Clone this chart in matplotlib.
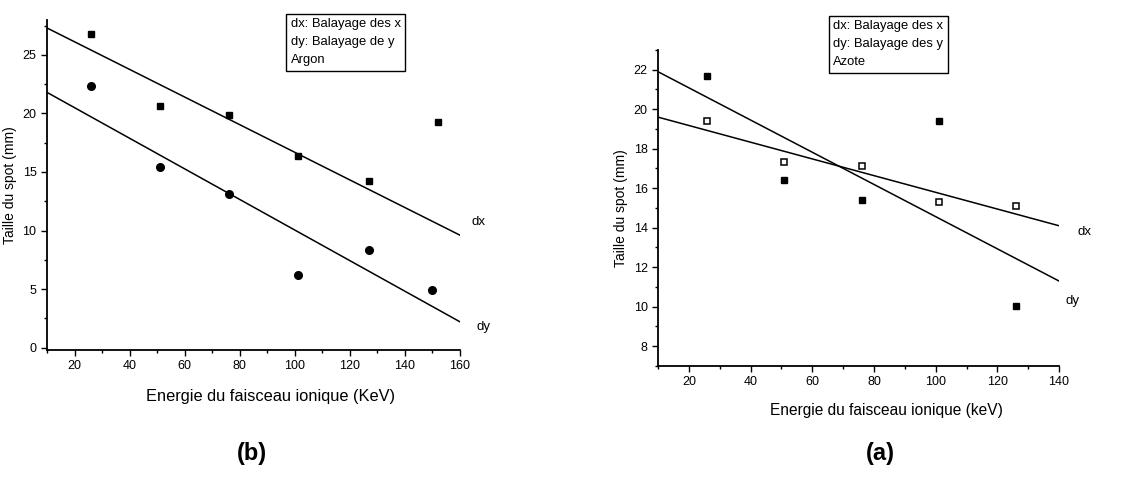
import matplotlib.pyplot as plt
from matplotlib.ticker import MultipleLocator

plt.rcParams['font.family'] = ['Liberation Sans', 'DejaVu Sans']

# Argon (panel b)
ar_x_dx = [26, 51, 76, 101, 127, 152]
ar_dx = [26.8, 20.6, 19.9, 16.4, 14.2, 19.3]
ar_x_dy = [26, 51, 76, 101, 127, 150]
ar_dy = [22.3, 15.4, 13.1, 6.2, 8.3, 4.9]
ar_fit_x = [10, 160]
ar_fit_dx = [27.3, 9.6]
ar_fit_dy = [21.8, 2.2]

# Azote (panel a)
az_x = [26, 51, 76, 101, 126]
az_dx = [19.4, 17.35, 17.15, 15.3, 15.1]
az_dy = [21.7, 16.4, 15.4, 19.4, 10.05]
az_fit_x = [10, 140]
az_fit_dx = [19.6, 14.1]
az_fit_dy = [21.9, 11.3]

fig = plt.figure(figsize=(11.4, 4.82), dpi=100)
ax1 = fig.add_axes([0.0412, 0.274, 0.3623, 0.685])
ax2 = fig.add_axes([0.5772, 0.2407, 0.3518, 0.6556])


def style(ax, xmaj, ymaj, ymin):
    for s in ['top', 'right']:
        ax.spines[s].set_visible(False)
    for s in ['left', 'bottom']:
        ax.spines[s].set_linewidth(1.3)
    ax.xaxis.set_major_locator(MultipleLocator(xmaj))
    ax.xaxis.set_minor_locator(MultipleLocator(xmaj / 2))
    ax.yaxis.set_major_locator(MultipleLocator(ymaj))
    ax.yaxis.set_minor_locator(MultipleLocator(ymin))
    ax.tick_params(which='major', direction='out', length=4, width=1, labelsize=9)
    ax.tick_params(which='minor', direction='out', length=2, width=1)


# panel b
ax1.plot(ar_fit_x, ar_fit_dx, color='black', lw=1.1)
ax1.plot(ar_fit_x, ar_fit_dy, color='black', lw=1.1)
ax1.plot(ar_x_dx, ar_dx, 's', color='black', ms=5)
ax1.plot(ar_x_dy, ar_dy, 'o', color='black', ms=5.5)
ax1.set_xlim(10, 160)
ax1.set_ylim(-0.2, 28)
style(ax1, 20, 5, 2.5)
ax1.set_xlabel('Energie du faisceau ionique (KeV)', fontsize=11.8)
ax1.xaxis.set_label_coords(0.542, -0.119, transform=ax1.transAxes)
ax1.set_ylabel('Taille du spot (mm)', fontsize=10, labelpad=4)
ax1.text(164, 10.7, 'dx', fontsize=9.5, va='center', ha='left')
ax1.text(166, 1.8, 'dy', fontsize=9.5, va='center', ha='left')

# panel a
ax2.plot(az_fit_x, az_fit_dx, color='black', lw=1.1)
ax2.plot(az_fit_x, az_fit_dy, color='black', lw=1.1)
ax2.plot(az_x, az_dy, 's', color='black', ms=5)
ax2.plot(az_x, az_dx, 's', mfc='white', mec='black', mew=1.1, ms=4.5)
ax2.set_xlim(10, 140)
ax2.set_ylim(7, 23)
style(ax2, 20, 2, 1)
ax2.set_xlabel('Energie du faisceau ionique (keV)', fontsize=11.2)
ax2.xaxis.set_label_coords(0.569, -0.118, transform=ax2.transAxes)
ax2.set_ylabel('Taille du spot (mm)', fontsize=10, labelpad=4)
ax2.text(146, 13.8, 'dx', fontsize=9.5, va='center', ha='left')
ax2.text(142, 10.3, 'dy', fontsize=9.5, va='center', ha='left')

# legend boxes
box = dict(boxstyle='square,pad=0.35', facecolor='white', edgecolor='black', lw=1)
fig.text(0.255, 0.962, 'dx: Balayage des x\ndy: Balayage de y\nArgon', fontsize=9.4,
         va='top', ha='left', linespacing=1.65, bbox=box)
fig.text(0.731, 0.958, 'dx: Balayage des x\ndy: Balayage des y\nAzote', fontsize=9.4,
         va='top', ha='left', linespacing=1.65, bbox=box)

fig.text(0.221, 0.06, '(b)', fontsize=17, fontweight='bold', ha='center', va='center')
fig.text(0.772, 0.06, '(a)', fontsize=17, fontweight='bold', ha='center', va='center')

fig.savefig('out.png', dpi=100)
